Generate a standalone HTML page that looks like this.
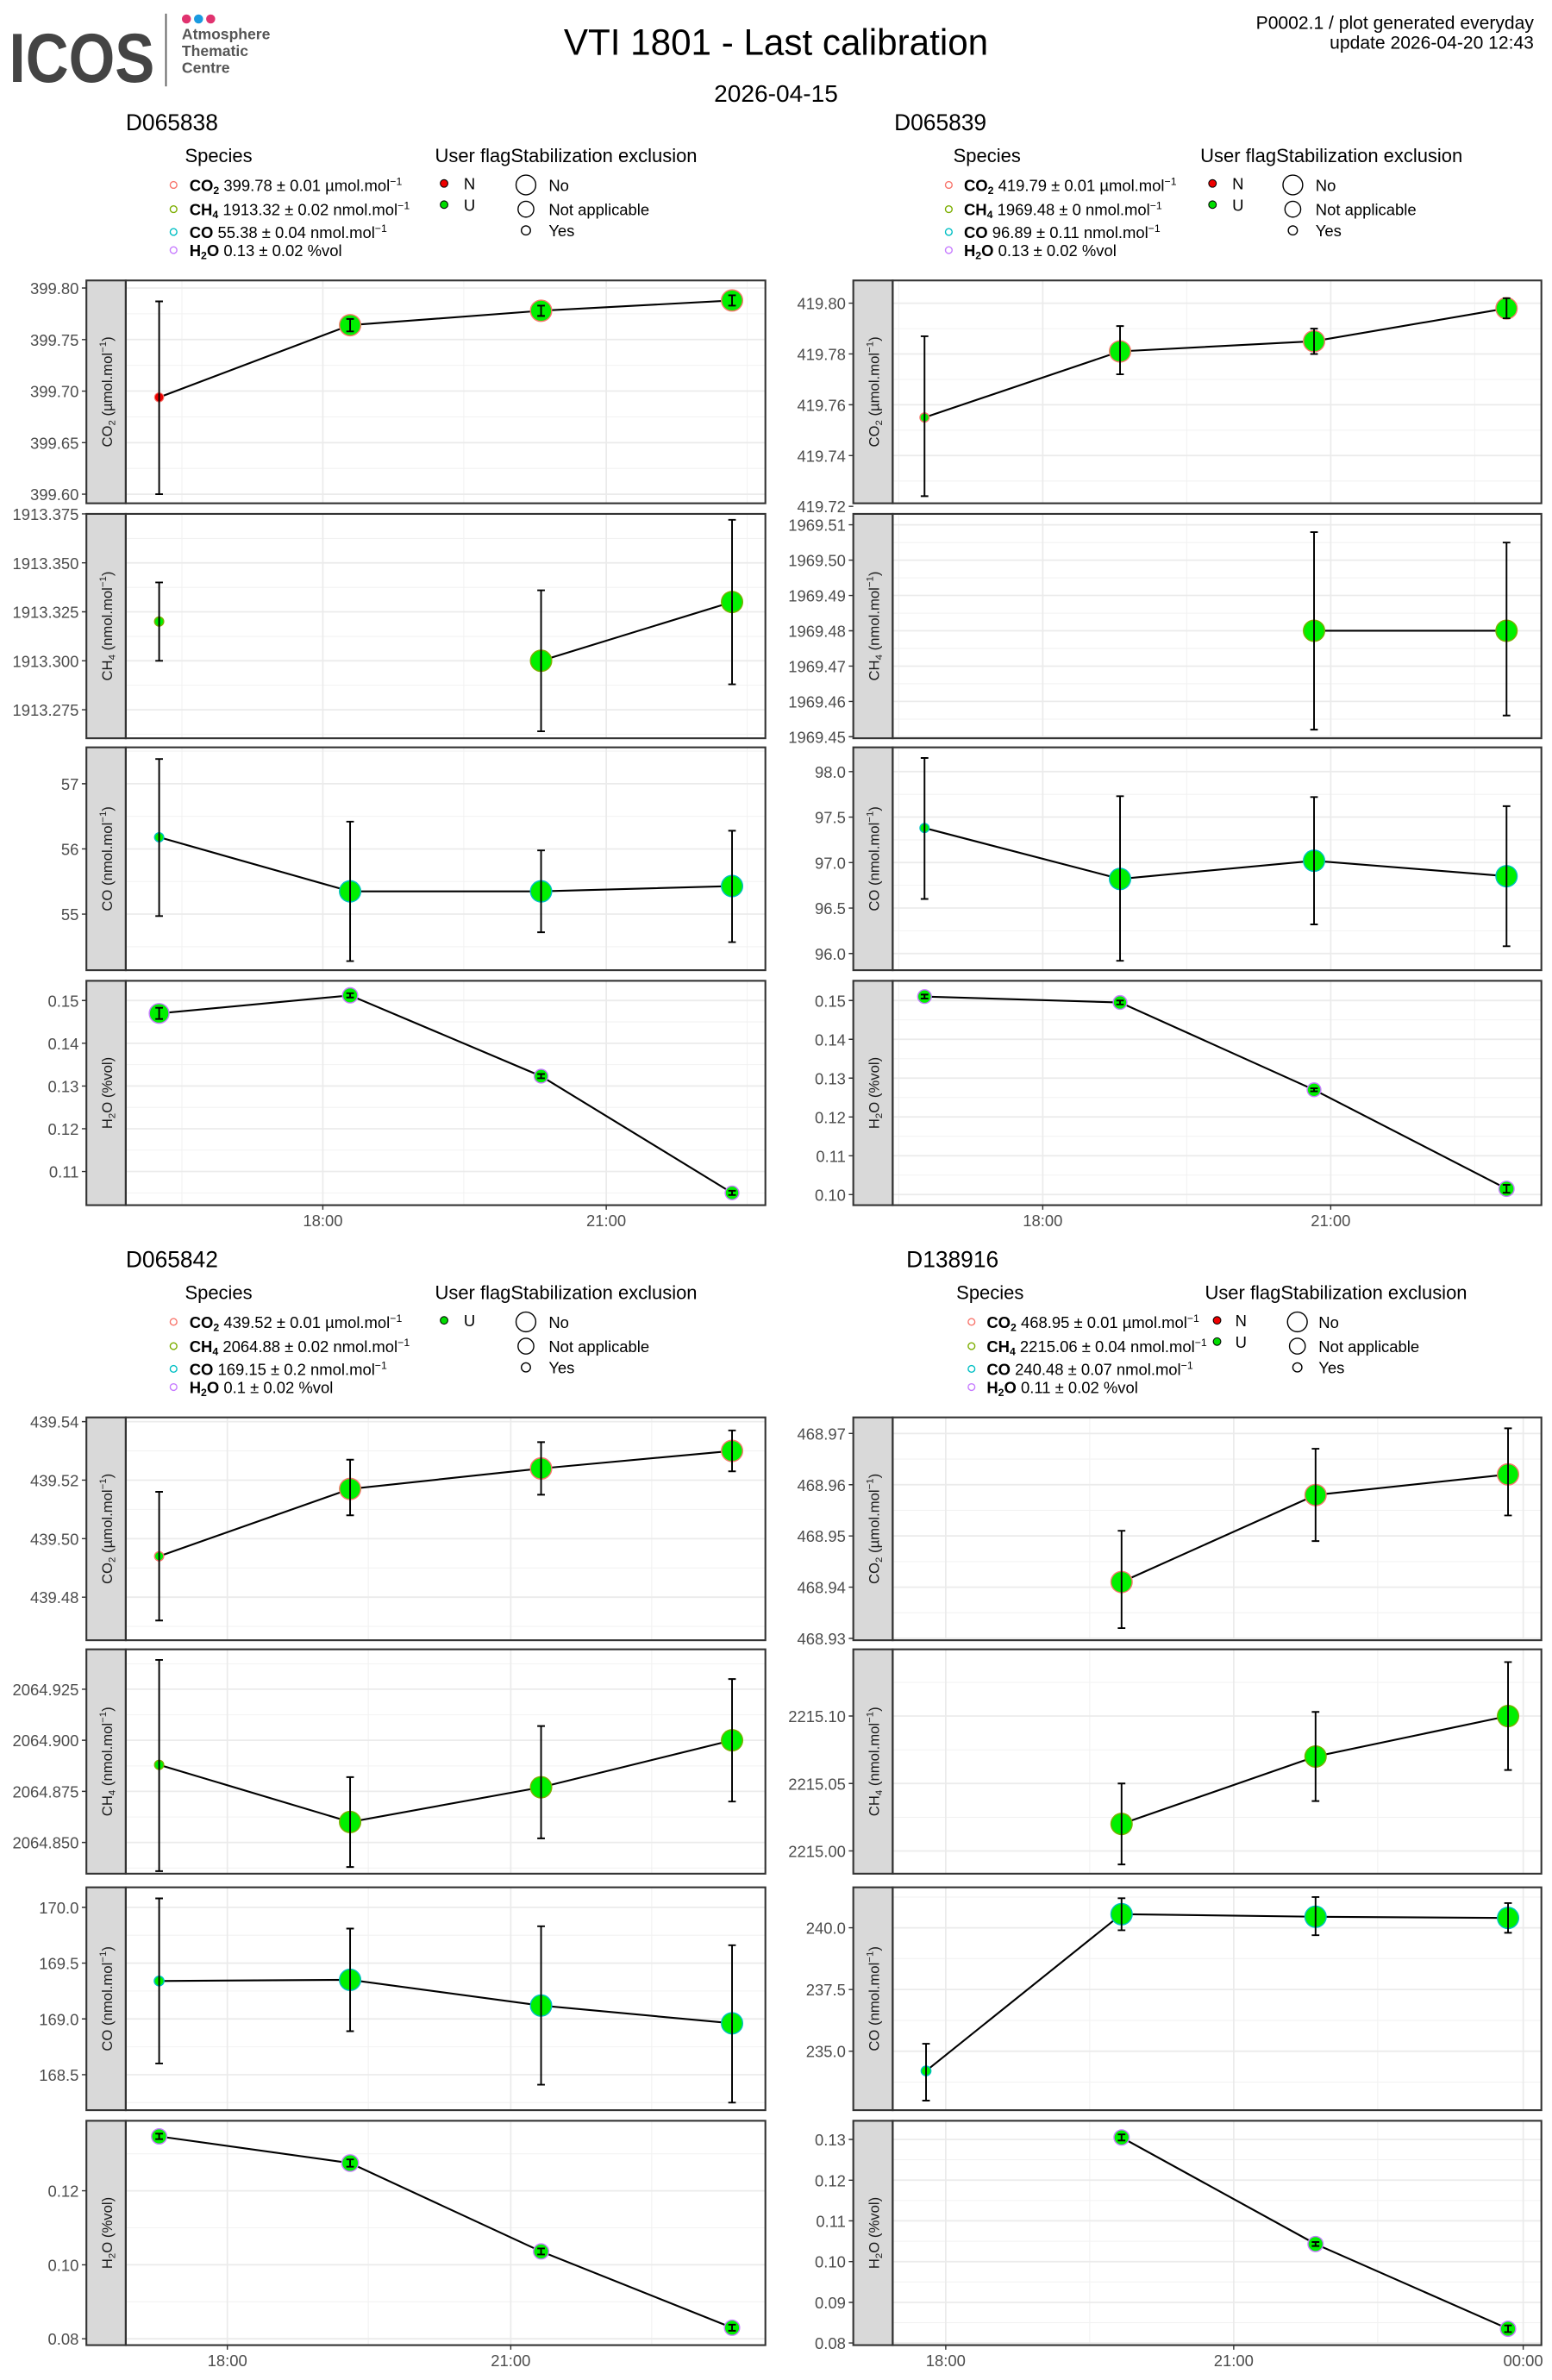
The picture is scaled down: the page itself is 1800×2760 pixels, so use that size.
<!DOCTYPE html>
<html><head><meta charset="utf-8"><style>
html,body{margin:0;padding:0;background:#fff}
svg{display:block}
.n{font-family:"Liberation Sans Narrow","Liberation Sans",sans-serif}
.tk{font-family:"Liberation Sans Narrow","Liberation Sans",sans-serif;font-size:10.5px;fill:#4d4d4d}
.st{font-family:"Liberation Sans",sans-serif;font-size:9.5px;fill:#1a1a1a}
.lg{font-family:"Liberation Sans Narrow","Liberation Sans",sans-serif;font-size:10.5px;fill:#000}
.gM{stroke:#ebebeb;stroke-width:1;fill:none}
.gm{stroke:#f2f2f2;stroke-width:.6;fill:none}
.bx{fill:none;stroke:#333;stroke-width:1.2}
.sp{fill:#d9d9d9;stroke:#333;stroke-width:1.2}
.ln{fill:none;stroke:#000;stroke-width:1.2}
.eb{fill:none;stroke:#000;stroke-width:1.1}
.tm{stroke:#333;stroke-width:.8}
.pc{fill:#00f000;stroke:#F8766D;stroke-width:.8}
.ph{fill:#00f000;stroke:#7CAE00;stroke-width:.8}
.po{fill:#00f000;stroke:#00BFC4;stroke-width:.8}
.pw{fill:#00f000;stroke:#C77CFF;stroke-width:.8}
</style></head><body>
<svg width="1800" height="2760" viewBox="0 0 1024 1570" preserveAspectRatio="none" xmlns="http://www.w3.org/2000/svg">
<rect width="1024" height="1570" fill="#fff"/>
<!-- logo -->
<text x="6" y="54" font-family="Liberation Sans,sans-serif" font-weight="bold" font-size="46" fill="#444" textLength="96" lengthAdjust="spacingAndGlyphs">ICOS</text>
<line x1="109.5" y1="9" x2="109.5" y2="57" stroke="#555" stroke-width="1"/>
<circle cx="123" cy="12.5" r="3" fill="#e0336f"/><circle cx="131" cy="12.5" r="3" fill="#1a9ae0"/><circle cx="139" cy="12.5" r="3" fill="#e0336f"/>
<g font-family="Liberation Sans,sans-serif" font-weight="bold" font-size="10" fill="#555">
<text x="120" y="26">Atmosphere</text><text x="120" y="37">Thematic</text><text x="120" y="48">Centre</text></g>
<text x="512" y="36" text-anchor="middle" class="n" font-size="24">VTI 1801 - Last calibration</text>
<text x="512" y="67" text-anchor="middle" class="n" font-size="16">2026-04-15</text>
<text x="1012" y="19" text-anchor="end" class="n" font-size="12">P0002.1 / plot generated everyday</text>
<text x="1012" y="32" text-anchor="end" class="n" font-size="12">update  2026-04-20 12:43</text>

<g class="n" font-size="15"><text x="83" y="86">D065838</text><text x="590" y="86">D065839</text><text x="83" y="836">D065842</text><text x="598" y="836">D138916</text></g>

<!-- legend TL -->
<g class="lg">
<text x="122" y="107" font-size="12.5">Species</text><text x="287" y="107" font-size="12.5">User flagStabilization exclusion</text>
<circle cx="114.5" cy="122" r="2.2" fill="none" stroke="#F8766D" stroke-width=".8"/>
<circle cx="114.5" cy="138" r="2.2" fill="none" stroke="#7CAE00" stroke-width=".8"/>
<circle cx="114.5" cy="153" r="2.2" fill="none" stroke="#00BFC4" stroke-width=".8"/>
<circle cx="114.5" cy="165" r="2.2" fill="none" stroke="#C77CFF" stroke-width=".8"/>
<text x="125" y="126"><tspan font-weight="bold">CO<tspan font-size="7" dy="2">2</tspan></tspan><tspan dy="-2"> 399.78 ± 0.01 µmol.mol</tspan><tspan font-size="7" dy="-4">−1</tspan></text>
<text x="125" y="142"><tspan font-weight="bold">CH<tspan font-size="7" dy="2">4</tspan></tspan><tspan dy="-2"> 1913.32 ± 0.02 nmol.mol</tspan><tspan font-size="7" dy="-4">−1</tspan></text>
<text x="125" y="157"><tspan font-weight="bold">CO</tspan> 55.38 ± 0.04 nmol.mol<tspan font-size="7" dy="-4">−1</tspan></text>
<text x="125" y="169"><tspan font-weight="bold">H<tspan font-size="7" dy="2">2</tspan><tspan dy="-2">O</tspan></tspan> 0.13 ± 0.02 %vol</text>
<circle cx="293" cy="121" r="2.5" fill="#e00" stroke="#000" stroke-width=".6"/><text x="306" y="125">N</text>
<circle cx="293" cy="135" r="2.5" fill="#0d0" stroke="#000" stroke-width=".6"/><text x="306" y="139">U</text>
<circle cx="347" cy="122" r="6.5" fill="none" stroke="#000" stroke-width=".8"/><text x="362" y="126">No</text>
<circle cx="347" cy="138" r="5.2" fill="none" stroke="#000" stroke-width=".8"/><text x="362" y="142">Not applicable</text>
<circle cx="347" cy="152" r="3" fill="none" stroke="#000" stroke-width=".8"/><text x="362" y="156">Yes</text>
</g>
<!-- legend TR -->
<g class="lg">
<text x="629" y="107" font-size="12.5">Species</text><text x="792" y="107" font-size="12.5">User flagStabilization exclusion</text>
<circle cx="626" cy="122" r="2.2" fill="none" stroke="#F8766D" stroke-width=".8"/>
<circle cx="626" cy="138" r="2.2" fill="none" stroke="#7CAE00" stroke-width=".8"/>
<circle cx="626" cy="153" r="2.2" fill="none" stroke="#00BFC4" stroke-width=".8"/>
<circle cx="626" cy="165" r="2.2" fill="none" stroke="#C77CFF" stroke-width=".8"/>
<text x="636" y="126"><tspan font-weight="bold">CO<tspan font-size="7" dy="2">2</tspan></tspan><tspan dy="-2"> 419.79 ± 0.01 µmol.mol</tspan><tspan font-size="7" dy="-4">−1</tspan></text>
<text x="636" y="142"><tspan font-weight="bold">CH<tspan font-size="7" dy="2">4</tspan></tspan><tspan dy="-2"> 1969.48 ± 0 nmol.mol</tspan><tspan font-size="7" dy="-4">−1</tspan></text>
<text x="636" y="157"><tspan font-weight="bold">CO</tspan> 96.89 ± 0.11 nmol.mol<tspan font-size="7" dy="-4">−1</tspan></text>
<text x="636" y="169"><tspan font-weight="bold">H<tspan font-size="7" dy="2">2</tspan><tspan dy="-2">O</tspan></tspan> 0.13 ± 0.02 %vol</text>
<circle cx="800" cy="121" r="2.5" fill="#e00" stroke="#000" stroke-width=".6"/><text x="813" y="125">N</text>
<circle cx="800" cy="135" r="2.5" fill="#0d0" stroke="#000" stroke-width=".6"/><text x="813" y="139">U</text>
<circle cx="853" cy="122" r="6.5" fill="none" stroke="#000" stroke-width=".8"/><text x="868" y="126">No</text>
<circle cx="853" cy="138" r="5.2" fill="none" stroke="#000" stroke-width=".8"/><text x="868" y="142">Not applicable</text>
<circle cx="853" cy="152" r="3" fill="none" stroke="#000" stroke-width=".8"/><text x="868" y="156">Yes</text>
</g>
<!-- legend BL -->
<g class="lg">
<text x="122" y="857" font-size="12.5">Species</text><text x="287" y="857" font-size="12.5">User flagStabilization exclusion</text>
<circle cx="114.5" cy="872" r="2.2" fill="none" stroke="#F8766D" stroke-width=".8"/>
<circle cx="114.5" cy="888" r="2.2" fill="none" stroke="#7CAE00" stroke-width=".8"/>
<circle cx="114.5" cy="903" r="2.2" fill="none" stroke="#00BFC4" stroke-width=".8"/>
<circle cx="114.5" cy="915" r="2.2" fill="none" stroke="#C77CFF" stroke-width=".8"/>
<text x="125" y="876"><tspan font-weight="bold">CO<tspan font-size="7" dy="2">2</tspan></tspan><tspan dy="-2"> 439.52 ± 0.01 µmol.mol</tspan><tspan font-size="7" dy="-4">−1</tspan></text>
<text x="125" y="892"><tspan font-weight="bold">CH<tspan font-size="7" dy="2">4</tspan></tspan><tspan dy="-2"> 2064.88 ± 0.02 nmol.mol</tspan><tspan font-size="7" dy="-4">−1</tspan></text>
<text x="125" y="907"><tspan font-weight="bold">CO</tspan> 169.15 ± 0.2 nmol.mol<tspan font-size="7" dy="-4">−1</tspan></text>
<text x="125" y="919"><tspan font-weight="bold">H<tspan font-size="7" dy="2">2</tspan><tspan dy="-2">O</tspan></tspan> 0.1 ± 0.02 %vol</text>
<circle cx="293" cy="871" r="2.5" fill="#0d0" stroke="#000" stroke-width=".6"/><text x="306" y="875">U</text>
<circle cx="347" cy="872" r="6.5" fill="none" stroke="#000" stroke-width=".8"/><text x="362" y="876">No</text>
<circle cx="347" cy="888" r="5.2" fill="none" stroke="#000" stroke-width=".8"/><text x="362" y="892">Not applicable</text>
<circle cx="347" cy="902" r="3" fill="none" stroke="#000" stroke-width=".8"/><text x="362" y="906">Yes</text>
</g>
<!-- legend BR -->
<g class="lg">
<text x="631" y="857" font-size="12.5">Species</text><text x="795" y="857" font-size="12.5">User flagStabilization exclusion</text>
<circle cx="641" cy="872" r="2.2" fill="none" stroke="#F8766D" stroke-width=".8"/>
<circle cx="641" cy="888" r="2.2" fill="none" stroke="#7CAE00" stroke-width=".8"/>
<circle cx="641" cy="903" r="2.2" fill="none" stroke="#00BFC4" stroke-width=".8"/>
<circle cx="641" cy="915" r="2.2" fill="none" stroke="#C77CFF" stroke-width=".8"/>
<text x="651" y="876"><tspan font-weight="bold">CO<tspan font-size="7" dy="2">2</tspan></tspan><tspan dy="-2"> 468.95 ± 0.01 µmol.mol</tspan><tspan font-size="7" dy="-4">−1</tspan></text>
<text x="651" y="892"><tspan font-weight="bold">CH<tspan font-size="7" dy="2">4</tspan></tspan><tspan dy="-2"> 2215.06 ± 0.04 nmol.mol</tspan><tspan font-size="7" dy="-4">−1</tspan></text>
<text x="651" y="907"><tspan font-weight="bold">CO</tspan> 240.48 ± 0.07 nmol.mol<tspan font-size="7" dy="-4">−1</tspan></text>
<text x="651" y="919"><tspan font-weight="bold">H<tspan font-size="7" dy="2">2</tspan><tspan dy="-2">O</tspan></tspan> 0.11 ± 0.02 %vol</text>
<circle cx="803" cy="871" r="2.5" fill="#e00" stroke="#000" stroke-width=".6"/><text x="815" y="875">N</text>
<circle cx="803" cy="885" r="2.5" fill="#0d0" stroke="#000" stroke-width=".6"/><text x="815" y="889">U</text>
<circle cx="856" cy="872" r="6.5" fill="none" stroke="#000" stroke-width=".8"/><text x="870" y="876">No</text>
<circle cx="856" cy="888" r="5.2" fill="none" stroke="#000" stroke-width=".8"/><text x="870" y="892">Not applicable</text>
<circle cx="856" cy="902" r="3" fill="none" stroke="#000" stroke-width=".8"/><text x="870" y="906">Yes</text>
</g>

<!-- ================= TOP LEFT ================= -->
<path class="gm" d="M83 207H505M83 241H505M83 275H505M83 309H505M120 185V332M306 185V332M493 185V332"/>
<path class="gM" d="M83 190H505M83 224H505M83 258H505M83 292H505M83 326H505M213 185V332M400 185V332"/>
<polyline class="ln" points="105,262.1 231,214.5 357,205 483,198.2"/>
<circle cx="105" cy="262.1" r="3" fill="#ee0000" stroke="#F8766D" stroke-width=".6"/>
<circle class="pc" cx="231" cy="214.5" r="7"/><circle class="pc" cx="357" cy="205" r="7"/><circle class="pc" cx="483" cy="198.2" r="7"/>
<path class="eb" d="M105 326V198.8M102.5 326H107.5M102.5 198.8H107.5M231 218.6V210.4M228.5 218.6H233.5M228.5 210.4H233.5M357 208.4V201.6M354.5 208.4H359.5M354.5 201.6H359.5M483 201.6V194.8M480.5 201.6H485.5M480.5 194.8H485.5"/>
<rect class="sp" x="57" y="185" width="26" height="147"/><rect class="bx" x="83" y="185" width="422" height="147"/>
<text class="st" transform="translate(74,258.5) rotate(-90)" text-anchor="middle">CO<tspan font-size="6.5" dy="2">2</tspan><tspan dy="-2"> (µmol.mol</tspan><tspan font-size="6.5" dy="-4">−1</tspan><tspan dy="4">)</tspan></text>
<g class="tk" text-anchor="end"><text x="52" y="194">399.80</text><text x="52" y="228">399.75</text><text x="52" y="262">399.70</text><text x="52" y="296">399.65</text><text x="52" y="330">399.60</text></g>
<path class="tm" d="M54 190H57M54 224H57M54 258H57M54 292H57M54 326H57"/>

<path class="gm" d="M83 355.2H505M83 387.5H505M83 419.8H505M83 452H505M83 484.3H505M120 339V487M306 339V487M493 339V487"/>
<path class="gM" d="M83 371.3H505M83 403.6H505M83 435.9H505M83 468.2H505M213 339V487M400 339V487"/>
<polyline class="ln" points="357,435.9 483,397.1"/>
<circle class="ph" cx="105" cy="410" r="3"/>
<circle class="ph" cx="357" cy="435.9" r="7"/><circle class="ph" cx="483" cy="397.1" r="7"/>
<path class="eb" d="M105 435.9V384.2M102.5 435.9H107.5M102.5 384.2H107.5M357 482.4V389.4M354.5 482.4H359.5M354.5 389.4H359.5M483 451.4V342.9M480.5 451.4H485.5M480.5 342.9H485.5"/>
<rect class="sp" x="57" y="339" width="26" height="148"/><rect class="bx" x="83" y="339" width="422" height="148"/>
<text class="st" transform="translate(74,413) rotate(-90)" text-anchor="middle">CH<tspan font-size="6.5" dy="2">4</tspan><tspan dy="-2"> (nmol.mol</tspan><tspan font-size="6.5" dy="-4">−1</tspan><tspan dy="4">)</tspan></text>
<g class="tk" text-anchor="end"><text x="52" y="343">1913.375</text><text x="52" y="375.3">1913.350</text><text x="52" y="407.6">1913.325</text><text x="52" y="439.9">1913.300</text><text x="52" y="472.2">1913.275</text></g>
<path class="tm" d="M54 339H57M54 371.3H57M54 403.6H57M54 435.9H57M54 468.2H57"/>

<path class="gm" d="M83 495.5H505M83 538.5H505M83 581.5H505M83 624.5H505M120 493V640M306 493V640M493 493V640"/>
<path class="gM" d="M83 517H505M83 560H505M83 603H505M213 493V640M400 493V640"/>
<polyline class="ln" points="105,552.3 231,588 357,588 483,584.5"/>
<circle class="po" cx="105" cy="552.3" r="3"/>
<circle class="po" cx="231" cy="588" r="7"/><circle class="po" cx="357" cy="588" r="7"/><circle class="po" cx="483" cy="584.5" r="7"/>
<path class="eb" d="M105 604.3V500.7M102.5 604.3H107.5M102.5 500.7H107.5M231 634V542M228.5 634H233.5M228.5 542H233.5M357 615V561M354.5 615H359.5M354.5 561H359.5M483 621.5V548M480.5 621.5H485.5M480.5 548H485.5"/>
<rect class="sp" x="57" y="493" width="26" height="147"/><rect class="bx" x="83" y="493" width="422" height="147"/>
<text class="st" transform="translate(74,566.5) rotate(-90)" text-anchor="middle">CO (nmol.mol<tspan font-size="6.5" dy="-4">−1</tspan><tspan dy="4">)</tspan></text>
<g class="tk" text-anchor="end"><text x="52" y="521">57</text><text x="52" y="564">56</text><text x="52" y="607">55</text></g>
<path class="tm" d="M54 517H57M54 560H57M54 603H57"/>

<path class="gm" d="M83 674.1H505M83 702.3H505M83 730.5H505M83 758.7H505M83 786.9H505M120 647V795M306 647V795M493 647V795"/>
<path class="gM" d="M83 660H505M83 688.2H505M83 716.4H505M83 744.6H505M83 772.8H505M213 647V795M400 647V795"/>
<polyline class="ln" points="105,668.5 231,656.6 357,709.9 483,786.9"/>
<circle class="pw" cx="105" cy="668.5" r="6.5"/><circle class="pw" cx="231" cy="656.6" r="5"/><circle class="pw" cx="357" cy="709.9" r="4.5"/><circle class="pw" cx="483" cy="786.9" r="4.5"/>
<path class="eb" d="M105 672.2V664.8M102.5 672.2H107.5M102.5 664.8H107.5M231 658V655.2M228.5 658H233.5M228.5 655.2H233.5M357 711.3V708.5M354.5 711.3H359.5M354.5 708.5H359.5M483 788.3V785.5M480.5 788.3H485.5M480.5 785.5H485.5"/>
<rect class="sp" x="57" y="647" width="26" height="148"/><rect class="bx" x="83" y="647" width="422" height="148"/>
<text class="st" transform="translate(74,721) rotate(-90)" text-anchor="middle">H<tspan font-size="6.5" dy="2">2</tspan><tspan dy="-2">O (%vol)</tspan></text>
<g class="tk" text-anchor="end"><text x="52" y="664">0.15</text><text x="52" y="692.2">0.14</text><text x="52" y="720.4">0.13</text><text x="52" y="748.6">0.12</text><text x="52" y="776.8">0.11</text></g>
<path class="tm" d="M54 660H57M54 688.2H57M54 716.4H57M54 744.6H57M54 772.8H57M213 795V798M400 795V798"/>
<g class="tk" text-anchor="middle"><text x="213" y="809">18:00</text><text x="400" y="809">21:00</text></g>

<!-- ================= TOP RIGHT ================= -->
<path class="gm" d="M589 216.8H1017M589 250.3H1017M589 283.8H1017M589 317.3H1017M593 185V332M783 185V332M973 185V332"/>
<path class="gM" d="M589 200H1017M589 233.5H1017M589 267H1017M589 300.5H1017M688 185V332M878 185V332"/>
<polyline class="ln" points="610,275.4 739,231.8 867,225.1 994,203.4"/>
<circle class="pc" cx="610" cy="275.4" r="3"/>
<circle class="pc" cx="739" cy="231.8" r="7"/><circle class="pc" cx="867" cy="225.1" r="7"/><circle class="pc" cx="994" cy="203.4" r="7"/>
<path class="eb" d="M610 327.3V221.8M607.5 327.3H612.5M607.5 221.8H612.5M739 246.9V215.1M736.5 246.9H741.5M736.5 215.1H741.5M867 233.5V216.8M864.5 233.5H869.5M864.5 216.8H869.5M994 210V196.7M991.5 210H996.5M991.5 196.7H996.5"/>
<rect class="sp" x="563" y="185" width="26" height="147"/><rect class="bx" x="589" y="185" width="428" height="147"/>
<text class="st" transform="translate(580,258.5) rotate(-90)" text-anchor="middle">CO<tspan font-size="6.5" dy="2">2</tspan><tspan dy="-2"> (µmol.mol</tspan><tspan font-size="6.5" dy="-4">−1</tspan><tspan dy="4">)</tspan></text>
<g class="tk" text-anchor="end"><text x="558" y="204">419.80</text><text x="558" y="237.5">419.78</text><text x="558" y="271">419.76</text><text x="558" y="304.5">419.74</text><text x="558" y="338">419.72</text></g>
<path class="tm" d="M560 200H563M560 233.5H563M560 267H563M560 300.5H563M560 334H563"/>

<path class="gm" d="M589 357.9H1017M589 381.2H1017M589 404.5H1017M589 427.8H1017M589 451H1017M589 474.4H1017M593 339V487M783 339V487M973 339V487"/>
<path class="gM" d="M589 346.2H1017M589 369.5H1017M589 392.8H1017M589 416.1H1017M589 439.4H1017M589 462.7H1017M589 486H1017M688 339V487M878 339V487"/>
<polyline class="ln" points="867,416.1 994,416.1"/>
<circle class="ph" cx="867" cy="416.1" r="7"/><circle class="ph" cx="994" cy="416.1" r="7"/>
<path class="eb" d="M867 481.3V351M864.5 481.3H869.5M864.5 351H869.5M994 472V357.9M991.5 472H996.5M991.5 357.9H996.5"/>
<rect class="sp" x="563" y="339" width="26" height="148"/><rect class="bx" x="589" y="339" width="428" height="148"/>
<text class="st" transform="translate(580,413) rotate(-90)" text-anchor="middle">CH<tspan font-size="6.5" dy="2">4</tspan><tspan dy="-2"> (nmol.mol</tspan><tspan font-size="6.5" dy="-4">−1</tspan><tspan dy="4">)</tspan></text>
<g class="tk" text-anchor="end"><text x="558" y="350.2">1969.51</text><text x="558" y="373.5">1969.50</text><text x="558" y="396.8">1969.49</text><text x="558" y="420.1">1969.48</text><text x="558" y="443.4">1969.47</text><text x="558" y="466.7">1969.46</text><text x="558" y="490">1969.45</text></g>
<path class="tm" d="M560 346.2H563M560 369.5H563M560 392.8H563M560 416.1H563M560 439.4H563M560 462.7H563M560 486H563"/>

<path class="gm" d="M589 494H1017M589 524H1017M589 554H1017M589 584H1017M589 614H1017M593 493V640M783 493V640M973 493V640"/>
<path class="gM" d="M589 509H1017M589 539H1017M589 569H1017M589 599H1017M589 629H1017M688 493V640M878 493V640"/>
<polyline class="ln" points="610,546.2 739,579.8 867,567.8 994,578"/>
<circle class="po" cx="610" cy="546.2" r="3"/>
<circle class="po" cx="739" cy="579.8" r="7"/><circle class="po" cx="867" cy="567.8" r="7"/><circle class="po" cx="994" cy="578" r="7"/>
<path class="eb" d="M610 593V500M607.5 593H612.5M607.5 500H612.5M739 633.8V525.2M736.5 633.8H741.5M736.5 525.2H741.5M867 609.8V525.8M864.5 609.8H869.5M864.5 525.8H869.5M994 624.2V531.8M991.5 624.2H996.5M991.5 531.8H996.5"/>
<rect class="sp" x="563" y="493" width="26" height="147"/><rect class="bx" x="589" y="493" width="428" height="147"/>
<text class="st" transform="translate(580,566.5) rotate(-90)" text-anchor="middle">CO (nmol.mol<tspan font-size="6.5" dy="-4">−1</tspan><tspan dy="4">)</tspan></text>
<g class="tk" text-anchor="end"><text x="558" y="513">98.0</text><text x="558" y="543">97.5</text><text x="558" y="573">97.0</text><text x="558" y="603">96.5</text><text x="558" y="633">96.0</text></g>
<path class="tm" d="M560 509H563M560 539H563M560 569H563M560 599H563M560 629H563"/>

<path class="gm" d="M589 672.8H1017M589 698.4H1017M589 724H1017M589 749.6H1017M589 775.2H1017M593 647V795M783 647V795M973 647V795"/>
<path class="gM" d="M589 660H1017M589 685.6H1017M589 711.2H1017M589 736.8H1017M589 762.4H1017M589 788H1017M688 647V795M878 647V795"/>
<polyline class="ln" points="610,657.4 739,661.3 867,718.9 994,784.2"/>
<circle class="pw" cx="610" cy="657.4" r="4.5"/><circle class="pw" cx="739" cy="661.3" r="4.5"/><circle class="pw" cx="867" cy="718.9" r="4.5"/><circle class="pw" cx="994" cy="784.2" r="5"/>
<path class="eb" d="M610 658.7V656.1M607.5 658.7H612.5M607.5 656.1H612.5M739 662.6V660M736.5 662.6H741.5M736.5 660H741.5M867 719.9V717.9M864.5 719.9H869.5M864.5 717.9H869.5M994 786.8V781.6M991.5 786.8H996.5M991.5 781.6H996.5"/>
<rect class="sp" x="563" y="647" width="26" height="148"/><rect class="bx" x="589" y="647" width="428" height="148"/>
<text class="st" transform="translate(580,721) rotate(-90)" text-anchor="middle">H<tspan font-size="6.5" dy="2">2</tspan><tspan dy="-2">O (%vol)</tspan></text>
<g class="tk" text-anchor="end"><text x="558" y="664">0.15</text><text x="558" y="689.6">0.14</text><text x="558" y="715.2">0.13</text><text x="558" y="740.8">0.12</text><text x="558" y="766.4">0.11</text><text x="558" y="792">0.10</text></g>
<path class="tm" d="M560 660H563M560 685.6H563M560 711.2H563M560 736.8H563M560 762.4H563M560 788H563M688 795V798M878 795V798"/>
<g class="tk" text-anchor="middle"><text x="688" y="809">18:00</text><text x="878" y="809">21:00</text></g>

<!-- ================= BOTTOM LEFT ================= -->
<path class="gm" d="M83 957.1H505M83 995.7H505M83 1034.3H505M83 1072.9H505M243 935V1082M430 935V1082"/>
<path class="gM" d="M83 937.8H505M83 976.4H505M83 1015H505M83 1053.6H505M150 935V1082M337 935V1082"/>
<polyline class="ln" points="105,1026.6 231,982.2 357,968.7 483,957.1"/>
<circle class="pc" cx="105" cy="1026.6" r="3"/>
<circle class="pc" cx="231" cy="982.2" r="7"/><circle class="pc" cx="357" cy="968.7" r="7"/><circle class="pc" cx="483" cy="957.1" r="7"/>
<path class="eb" d="M105 1069V984.1M102.5 1069H107.5M102.5 984.1H107.5M231 999.6V962.9M228.5 999.6H233.5M228.5 962.9H233.5M357 986V951.3M354.5 986H359.5M354.5 951.3H359.5M483 970.6V943.6M480.5 970.6H485.5M480.5 943.6H485.5"/>
<rect class="sp" x="57" y="935" width="26" height="147"/><rect class="bx" x="83" y="935" width="422" height="147"/>
<text class="st" transform="translate(74,1008.5) rotate(-90)" text-anchor="middle">CO<tspan font-size="6.5" dy="2">2</tspan><tspan dy="-2"> (µmol.mol</tspan><tspan font-size="6.5" dy="-4">−1</tspan><tspan dy="4">)</tspan></text>
<g class="tk" text-anchor="end"><text x="52" y="941.8">439.54</text><text x="52" y="980.4">439.52</text><text x="52" y="1019">439.50</text><text x="52" y="1057.6">439.48</text></g>
<path class="tm" d="M54 937.8H57M54 976.4H57M54 1015H57M54 1053.6H57"/>

<path class="gm" d="M83 1097.5H505M83 1131.2H505M83 1164.9H505M83 1198.6H505M83 1232.3H505M243 1088V1236M430 1088V1236"/>
<path class="gM" d="M83 1114.3H505M83 1148H505M83 1181.7H505M83 1215.4H505M150 1088V1236M337 1088V1236"/>
<polyline class="ln" points="105,1164.2 231,1201.9 357,1179 483,1148"/>
<circle class="ph" cx="105" cy="1164.2" r="3"/>
<circle class="ph" cx="231" cy="1201.9" r="7"/><circle class="ph" cx="357" cy="1179" r="7"/><circle class="ph" cx="483" cy="1148" r="7"/>
<path class="eb" d="M105 1234.3V1095M102.5 1234.3H107.5M102.5 1095H107.5M231 1231.6V1172.3M228.5 1231.6H233.5M228.5 1172.3H233.5M357 1212.7V1138.6M354.5 1212.7H359.5M354.5 1138.6H359.5M483 1188.4V1107.6M480.5 1188.4H485.5M480.5 1107.6H485.5"/>
<rect class="sp" x="57" y="1088" width="26" height="148"/><rect class="bx" x="83" y="1088" width="422" height="148"/>
<text class="st" transform="translate(74,1162) rotate(-90)" text-anchor="middle">CH<tspan font-size="6.5" dy="2">4</tspan><tspan dy="-2"> (nmol.mol</tspan><tspan font-size="6.5" dy="-4">−1</tspan><tspan dy="4">)</tspan></text>
<g class="tk" text-anchor="end"><text x="52" y="1118.3">2064.925</text><text x="52" y="1152">2064.900</text><text x="52" y="1185.7">2064.875</text><text x="52" y="1219.4">2064.850</text></g>
<path class="tm" d="M54 1114.3H57M54 1148H57M54 1181.7H57M54 1215.4H57"/>

<path class="gm" d="M83 1276.6H505M83 1313.4H505M83 1350.2H505M83 1387H505M243 1245V1392M430 1245V1392"/>
<path class="gM" d="M83 1258.2H505M83 1295H505M83 1331.8H505M83 1368.6H505M150 1245V1392M337 1245V1392"/>
<polyline class="ln" points="105,1306.8 231,1306 357,1323 483,1334.7"/>
<circle class="po" cx="105" cy="1306.8" r="3.2"/>
<circle class="po" cx="231" cy="1306" r="7"/><circle class="po" cx="357" cy="1323" r="7"/><circle class="po" cx="483" cy="1334.7" r="7"/>
<path class="eb" d="M105 1361.2V1252.3M102.5 1361.2H107.5M102.5 1252.3H107.5M231 1339.9V1272.2M228.5 1339.9H233.5M228.5 1272.2H233.5M357 1375.2V1270.7M354.5 1375.2H359.5M354.5 1270.7H359.5M483 1387V1283.2M480.5 1387H485.5M480.5 1283.2H485.5"/>
<rect class="sp" x="57" y="1245" width="26" height="147"/><rect class="bx" x="83" y="1245" width="422" height="147"/>
<text class="st" transform="translate(74,1318.5) rotate(-90)" text-anchor="middle">CO (nmol.mol<tspan font-size="6.5" dy="-4">−1</tspan><tspan dy="4">)</tspan></text>
<g class="tk" text-anchor="end"><text x="52" y="1262.2">170.0</text><text x="52" y="1299">169.5</text><text x="52" y="1335.8">169.0</text><text x="52" y="1372.6">168.5</text></g>
<path class="tm" d="M54 1258.2H57M54 1295H57M54 1331.8H57M54 1368.6H57"/>

<path class="gm" d="M83 1420.8H505M83 1469.6H505M83 1518.4H505M243 1399V1547M430 1399V1547"/>
<path class="gM" d="M83 1445.2H505M83 1494H505M83 1542.8H505M150 1399V1547M337 1399V1547"/>
<polyline class="ln" points="105,1409.3 231,1426.9 357,1485.2 483,1535.5"/>
<circle class="pw" cx="105" cy="1409.3" r="5"/><circle class="pw" cx="231" cy="1426.9" r="5.5"/><circle class="pw" cx="357" cy="1485.2" r="5"/><circle class="pw" cx="483" cy="1535.5" r="5"/>
<path class="eb" d="M105 1411.1V1407.5M102.5 1411.1H107.5M102.5 1407.5H107.5M231 1429.3V1424.5M228.5 1429.3H233.5M228.5 1424.5H233.5M357 1487.2V1483.2M354.5 1487.2H359.5M354.5 1483.2H359.5M483 1537.5V1533.5M480.5 1537.5H485.5M480.5 1533.5H485.5"/>
<rect class="sp" x="57" y="1399" width="26" height="148"/><rect class="bx" x="83" y="1399" width="422" height="148"/>
<text class="st" transform="translate(74,1473) rotate(-90)" text-anchor="middle">H<tspan font-size="6.5" dy="2">2</tspan><tspan dy="-2">O (%vol)</tspan></text>
<g class="tk" text-anchor="end"><text x="52" y="1449.2">0.12</text><text x="52" y="1498">0.10</text><text x="52" y="1546.8">0.08</text></g>
<path class="tm" d="M54 1445.2H57M54 1494H57M54 1542.8H57M150 1547V1550M337 1547V1550"/>
<g class="tk" text-anchor="middle"><text x="150" y="1561">18:00</text><text x="337" y="1561">21:00</text></g>

<!-- ================= BOTTOM RIGHT ================= -->
<path class="gm" d="M589 962.5H1017M589 996.3H1017M589 1030.1H1017M589 1063.9H1017M719 935V1082M909 935V1082"/>
<path class="gM" d="M589 945.6H1017M589 979.4H1017M589 1013.2H1017M589 1047H1017M589 1080.8H1017M624 935V1082M814 935V1082M1005 935V1082"/>
<polyline class="ln" points="740,1043.6 868,986.2 995,972.6"/>
<circle class="pc" cx="740" cy="1043.6" r="7"/><circle class="pc" cx="868" cy="986.2" r="7"/><circle class="pc" cx="995" cy="972.6" r="7"/>
<path class="eb" d="M740 1074V1009.8M737.5 1074H742.5M737.5 1009.8H742.5M868 1016.6V955.7M865.5 1016.6H870.5M865.5 955.7H870.5M995 999.7V942.2M992.5 999.7H997.5M992.5 942.2H997.5"/>
<rect class="sp" x="563" y="935" width="26" height="147"/><rect class="bx" x="589" y="935" width="428" height="147"/>
<text class="st" transform="translate(580,1008.5) rotate(-90)" text-anchor="middle">CO<tspan font-size="6.5" dy="2">2</tspan><tspan dy="-2"> (µmol.mol</tspan><tspan font-size="6.5" dy="-4">−1</tspan><tspan dy="4">)</tspan></text>
<g class="tk" text-anchor="end"><text x="558" y="949.6">468.97</text><text x="558" y="983.4">468.96</text><text x="558" y="1017.2">468.95</text><text x="558" y="1051">468.94</text><text x="558" y="1084.8">468.93</text></g>
<path class="tm" d="M560 945.6H563M560 979.4H563M560 1013.2H563M560 1047H563M560 1080.8H563"/>

<path class="gm" d="M589 1109.8H1017M589 1154.3H1017M589 1198.8H1017M719 1088V1236M909 1088V1236"/>
<path class="gM" d="M589 1132H1017M589 1176.5H1017M589 1221H1017M624 1088V1236M814 1088V1236M1005 1088V1236"/>
<polyline class="ln" points="740,1203.2 868,1158.7 995,1132"/>
<circle class="ph" cx="740" cy="1203.2" r="7"/><circle class="ph" cx="868" cy="1158.7" r="7"/><circle class="ph" cx="995" cy="1132" r="7"/>
<path class="eb" d="M740 1229.9V1176.5M737.5 1229.9H742.5M737.5 1176.5H742.5M868 1188.1V1129.3M865.5 1188.1H870.5M865.5 1129.3H870.5M995 1167.6V1096.4M992.5 1167.6H997.5M992.5 1096.4H997.5"/>
<rect class="sp" x="563" y="1088" width="26" height="148"/><rect class="bx" x="589" y="1088" width="428" height="148"/>
<text class="st" transform="translate(580,1162) rotate(-90)" text-anchor="middle">CH<tspan font-size="6.5" dy="2">4</tspan><tspan dy="-2"> (nmol.mol</tspan><tspan font-size="6.5" dy="-4">−1</tspan><tspan dy="4">)</tspan></text>
<g class="tk" text-anchor="end"><text x="558" y="1136">2215.10</text><text x="558" y="1180.5">2215.05</text><text x="558" y="1225">2215.00</text></g>
<path class="tm" d="M560 1132H563M560 1176.5H563M560 1221H563"/>

<path class="gm" d="M589 1251.4H1017M589 1292H1017M589 1332.8H1017M589 1373.5H1017M719 1245V1392M909 1245V1392"/>
<path class="gM" d="M589 1271.7H1017M589 1312.4H1017M589 1353.1H1017M624 1245V1392M814 1245V1392M1005 1245V1392"/>
<polyline class="ln" points="611,1366.1 740,1262.7 868,1264.4 995,1265.2"/>
<circle class="po" cx="611" cy="1366.1" r="3.2"/>
<circle class="po" cx="740" cy="1262.7" r="7"/><circle class="po" cx="868" cy="1264.4" r="7"/><circle class="po" cx="995" cy="1265.2" r="7"/>
<path class="eb" d="M611 1385.7V1348.2M608.5 1385.7H613.5M608.5 1348.2H613.5M740 1273.3V1252.2M737.5 1273.3H742.5M737.5 1252.2H742.5M868 1276.6V1251.4M865.5 1276.6H870.5M865.5 1251.4H870.5M995 1275V1255.4M992.5 1275H997.5M992.5 1255.4H997.5"/>
<rect class="sp" x="563" y="1245" width="26" height="147"/><rect class="bx" x="589" y="1245" width="428" height="147"/>
<text class="st" transform="translate(580,1318.5) rotate(-90)" text-anchor="middle">CO (nmol.mol<tspan font-size="6.5" dy="-4">−1</tspan><tspan dy="4">)</tspan></text>
<g class="tk" text-anchor="end"><text x="558" y="1275.7">240.0</text><text x="558" y="1316.4">237.5</text><text x="558" y="1357.1">235.0</text></g>
<path class="tm" d="M560 1271.7H563M560 1312.4H563M560 1353.1H563"/>

<path class="gm" d="M589 1424.7H1017M589 1451.6H1017M589 1478.5H1017M589 1505.3H1017M589 1532.2H1017M719 1399V1547M909 1399V1547"/>
<path class="gM" d="M589 1411.3H1017M589 1438.2H1017M589 1465H1017M589 1491.9H1017M589 1518.8H1017M589 1545.6H1017M624 1399V1547M814 1399V1547M1005 1399V1547"/>
<polyline class="ln" points="740,1410 868,1480.3 995,1536.2"/>
<circle class="pw" cx="740" cy="1410" r="5"/><circle class="pw" cx="868" cy="1480.3" r="5"/><circle class="pw" cx="995" cy="1536.2" r="5"/>
<path class="eb" d="M740 1412V1408M737.5 1412H742.5M737.5 1408H742.5M868 1481.6V1479M865.5 1481.6H870.5M865.5 1479H870.5M995 1538.4V1534M992.5 1538.4H997.5M992.5 1534H997.5"/>
<rect class="sp" x="563" y="1399" width="26" height="148"/><rect class="bx" x="589" y="1399" width="428" height="148"/>
<text class="st" transform="translate(580,1473) rotate(-90)" text-anchor="middle">H<tspan font-size="6.5" dy="2">2</tspan><tspan dy="-2">O (%vol)</tspan></text>
<g class="tk" text-anchor="end"><text x="558" y="1415.3">0.13</text><text x="558" y="1442.2">0.12</text><text x="558" y="1469">0.11</text><text x="558" y="1495.9">0.10</text><text x="558" y="1522.8">0.09</text><text x="558" y="1549.6">0.08</text></g>
<path class="tm" d="M560 1411.3H563M560 1438.2H563M560 1465H563M560 1491.9H563M560 1518.8H563M560 1545.6H563M624 1547V1550M814 1547V1550M1005 1547V1550"/>
<g class="tk" text-anchor="middle"><text x="624" y="1561">18:00</text><text x="814" y="1561">21:00</text><text x="1005" y="1561">00:00</text></g>
</svg>
</body></html>
